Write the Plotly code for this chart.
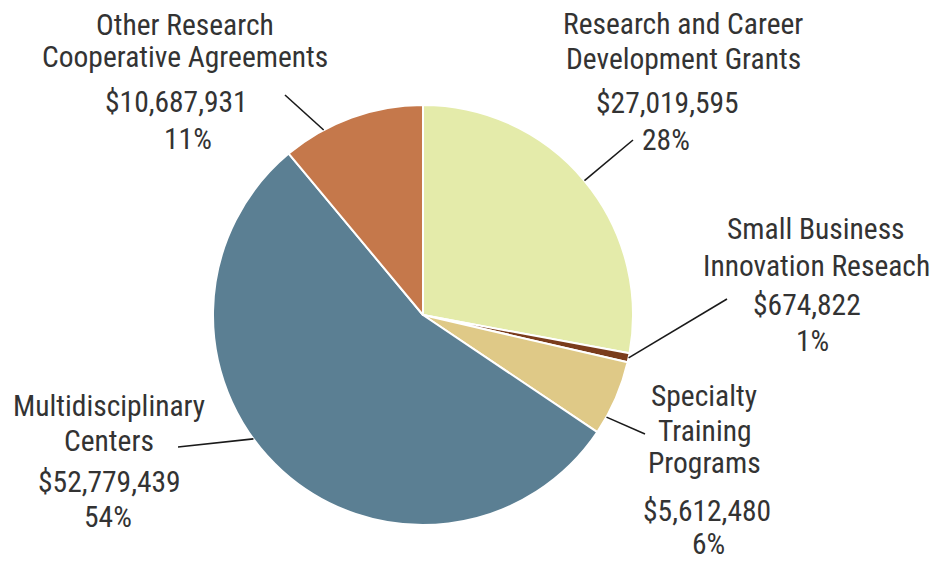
import math
import plotly.graph_objects as go

# ---- data ----
categories = [
    "Research and Career Development Grants",
    "Small Business Innovation Reseach",
    "Specialty Training Programs",
    "Multidisciplinary Centers",
    "Other Research Cooperative Agreements",
]
label_lines = [
    ["Research and Career", "Development Grants"],
    ["Small Business", "Innovation Reseach"],
    ["Specialty", "Training", "Programs"],
    ["Multidisciplinary", "Centers"],
    ["Other Research", "Cooperative Agreements"],
]
amounts = [27019595, 674822, 5612480, 52779439, 10687931]
amount_labels = ["$27,019,595", "$674,822", "$5,612,480", "$52,779,439", "$10,687,931"]
percent_labels = ["28%", "1%", "6%", "54%", "11%"]

# ---- style ----
colors = ["#E4EBAA", "#7A3C1C", "#DFC987", "#5B7F93", "#C5784B"]
W, H = 935, 562
CX, CY, R = 423, 315, 210
FONT = "Liberation Sans Narrow, Arial Narrow, Roboto Condensed, sans-serif"
FS = 29.5
TXT = "#333333"

# label layout (pixel positions of text line centres)
name_x = [683, 816, 704, 109, 185]
name_y = [[24, 59], [229, 266], [396, 431, 463], [406, 441], [25, 57]]
amt_pos = [(667, 103), (807, 305), (707, 511), (109, 482), (176, 102)]
pct_pos = [(666, 140), (812, 341), (708, 544), (108, 517), (188, 139)]
leader_outer = [(633, 140), (727, 299), (645, 434), (178, 447), (285, 95)]
leader_frac = [0.5, 0.5, 0.77, 0.56, 0.29]

fig = go.Figure(go.Pie(
    labels=categories,
    values=amounts,
    sort=False,
    direction="clockwise",
    rotation=0,
    textinfo="none",
    hoverinfo="label+value+percent",
    marker=dict(colors=colors, line=dict(color="white", width=2)),
    domain=dict(x=[(CX - R) / W, (CX + R) / W], y=[1 - (CY + R) / H, 1 - (CY - R) / H]),
    showlegend=False,
))

def px(x):
    return x / W

def py(y):
    return 1 - y / H

annotations = []
shapes = []
total = sum(amounts)
cum = 0.0
for i, v in enumerate(amounts):
    start = cum / total * 360
    width = v / total * 360
    cum += v
    ang = math.radians(start + leader_frac[i] * width)
    ex = CX + R * math.sin(ang)
    ey = CY - R * math.cos(ang)
    ox, oy = leader_outer[i]
    shapes.append(dict(type="line", xref="paper", yref="paper",
                       x0=px(ox), y0=py(oy), x1=px(ex), y1=py(ey),
                       line=dict(color="#1a1a1a", width=1.6)))
    for line, yy in zip(label_lines[i], name_y[i]):
        annotations.append(dict(text=line, x=px(name_x[i]), y=py(yy), xref="paper", yref="paper",
                                showarrow=False, xanchor="center", yanchor="middle", borderpad=0,
                                font=dict(family=FONT, size=FS, color=TXT)))
    ax, ay = amt_pos[i]
    annotations.append(dict(text=amount_labels[i], x=px(ax), y=py(ay), xref="paper", yref="paper",
                            showarrow=False, xanchor="center", yanchor="middle", borderpad=0,
                            font=dict(family=FONT, size=FS, color=TXT)))
    qx, qy = pct_pos[i]
    annotations.append(dict(text=percent_labels[i], x=px(qx), y=py(qy), xref="paper", yref="paper",
                            showarrow=False, xanchor="center", yanchor="middle", borderpad=0,
                            font=dict(family=FONT, size=FS, color=TXT)))

fig.update_layout(
    width=W, height=H,
    margin=dict(l=0, r=0, t=0, b=0),
    paper_bgcolor="white",
    plot_bgcolor="white",
    annotations=annotations,
    shapes=shapes,
)

fig.write_html("out.html", config={"displayModeBar": False},
               post_script="document.body.style.margin='0';")
